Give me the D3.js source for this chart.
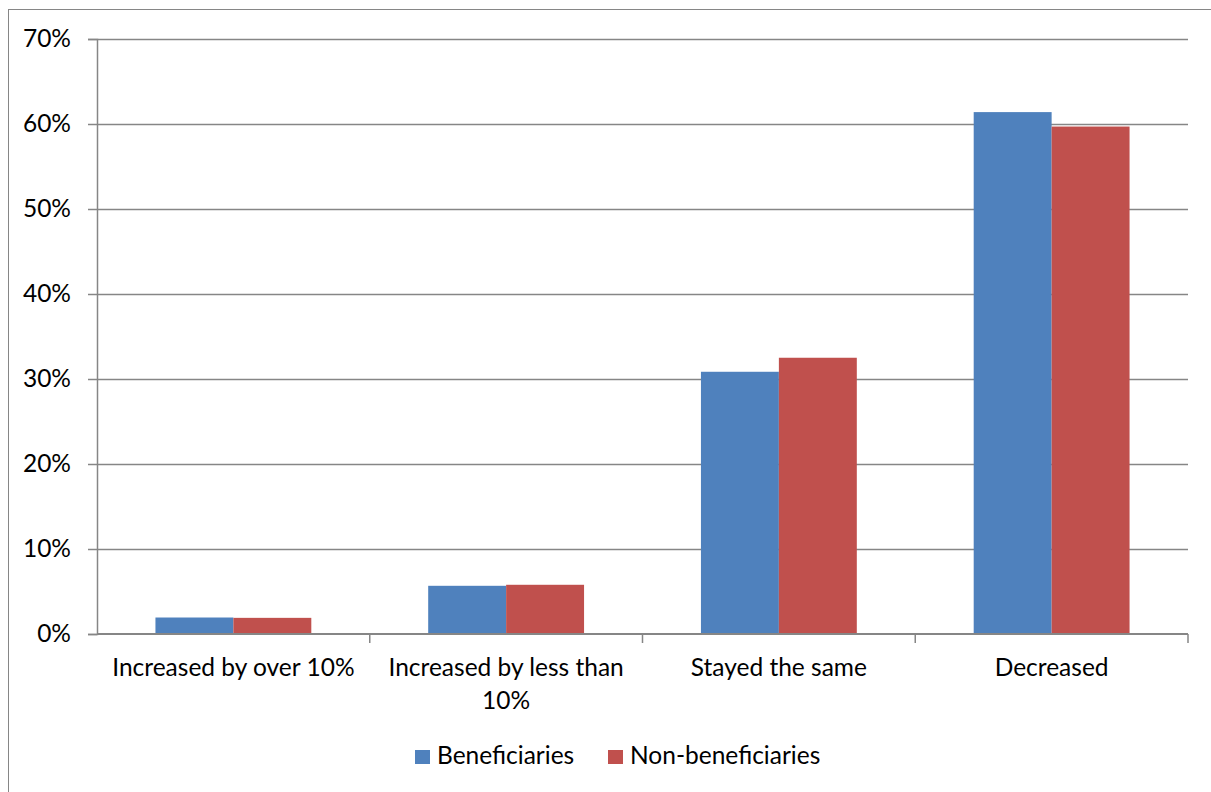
<!DOCTYPE html>
<html>
<head>
<meta charset="utf-8">
<script src="https://cdn.jsdelivr.net/npm/d3@7"></script>
<style>
  body { margin: 0; background: #fff; }
  svg { display: block; font-family: "Lato", "Open Sans", sans-serif; }
</style>
</head>
<body>
<svg id="chart" width="1211" height="792"></svg>
<script>
const categories = [
  ["Increased by over 10%"],
  ["Increased by less than", "10%"],
  ["Stayed the same"],
  ["Decreased"]
];
const seriesNames = ["Beneficiaries", "Non-beneficiaries"];
const beneficiaries = [0.0194, 0.0567, 0.3085, 0.614];
const nonBeneficiaries = [0.019, 0.0579, 0.325, 0.597];
const yTicks = [0, 0.1, 0.2, 0.3, 0.4, 0.5, 0.6, 0.7];
const colors = ["#4F81BD", "#C0504D"];

const svg = d3.select("#chart");
const fontSize = 24.5;

// outer frame of the chart area
svg.append("rect")
  .attr("x", 8.5).attr("y", 9.5)
  .attr("width", 1220).attr("height", 800)
  .attr("fill", "none").attr("stroke", "#868686").attr("stroke-width", 1);

const plotLeft = 97, plotRight = 1188, plotTop = 39, plotBottom = 634;

const x0 = d3.scaleBand().domain(d3.range(categories.length)).range([plotLeft, plotRight]);
const x1 = d3.scaleBand().domain(d3.range(seriesNames.length))
  .range([0, x0.bandwidth()]).paddingOuter(0.75).paddingInner(0);
const y = d3.scaleLinear().domain([0, 0.7]).range([plotBottom, plotTop]);

// horizontal gridlines
svg.append("g").selectAll("line").data(yTicks.slice(1)).join("line")
  .attr("x1", plotLeft).attr("x2", plotRight)
  .attr("y1", d => Math.round(y(d)) + 0.5).attr("y2", d => Math.round(y(d)) + 0.5)
  .attr("stroke", "#868686").attr("stroke-width", 1.5);

// bars
const series = [beneficiaries, nonBeneficiaries];
series.forEach((vals, si) => {
  svg.append("g").selectAll("rect").data(vals).join("rect")
    .attr("x", (d, i) => x0(i) + x1(si))
    .attr("width", x1.bandwidth())
    .attr("y", d => y(d))
    .attr("height", d => y(0) - y(d))
    .attr("fill", colors[si]);
});

// y axis
const yAxis = d3.axisLeft(y).tickValues(yTicks).tickFormat(d3.format(".0%")).tickSize(9).tickPadding(17);
const yg = svg.append("g").attr("transform", `translate(${plotLeft},0)`).call(yAxis);
yg.select(".domain").attr("stroke", "#868686").attr("stroke-width", 1.5);
yg.selectAll(".tick line").attr("stroke", "#868686").attr("stroke-width", 1.5);
yg.selectAll(".tick text").attr("font-size", fontSize).attr("fill", "#000")
  .attr("font-family", "Lato, 'Open Sans', sans-serif");

// x axis baseline and category ticks
const xg = svg.append("g");
xg.append("line").attr("x1", plotLeft).attr("x2", plotRight)
  .attr("y1", plotBottom).attr("y2", plotBottom)
  .attr("stroke", "#868686").attr("stroke-width", 2);
const tickXs = d3.range(categories.length).map(i => x0(i) + x0.bandwidth());
xg.selectAll("line.tk").data(tickXs).join("line").attr("class", "tk")
  .attr("x1", d => d).attr("x2", d => d)
  .attr("y1", plotBottom).attr("y2", plotBottom + 9)
  .attr("stroke", "#868686").attr("stroke-width", 1.5);

// category labels
const labels = svg.append("g").selectAll("text").data(categories).join("text")
  .attr("text-anchor", "middle")
  .attr("font-size", fontSize)
  .attr("fill", "#000");
labels.each(function(lines, i) {
  const t = d3.select(this);
  lines.forEach((ln, j) => {
    t.append("tspan")
      .attr("x", x0(i) + x0.bandwidth() / 2)
      .attr("y", 676 + j * 32.5)
      .text(ln);
  });
});

// legend
const legendItems = [{ name: seriesNames[0], x: 415 }, { name: seriesNames[1], x: 608 }];
const lg = svg.append("g");
legendItems.forEach((it, i) => {
  lg.append("rect").attr("x", it.x).attr("y", 750).attr("width", 15).attr("height", 14)
    .attr("fill", colors[i]);
  lg.append("text").attr("x", it.x + 22).attr("y", 764)
    .attr("font-size", fontSize).attr("fill", "#000").text(it.name);
});
</script>
</body>
</html>
